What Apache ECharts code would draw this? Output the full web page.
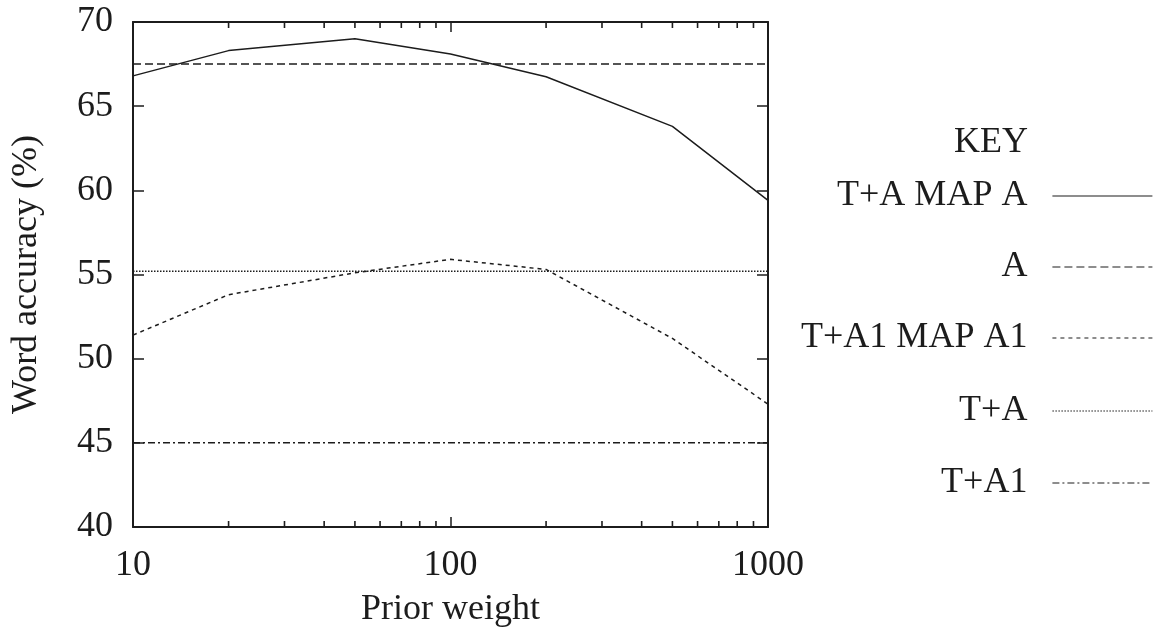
<!DOCTYPE html>
<html>
<head>
<meta charset="utf-8">
<script src="https://cdn.jsdelivr.net/npm/echarts@6/dist/echarts.min.js"></script>
<style>html,body{margin:0;padding:0;background:#fff;}#c{width:1159px;height:642px;}</style>
</head>
<body>
<div id="c"></div>
<script>
// ---- data ----
const priorWeights = [10, 20, 50, 100, 200, 500, 1000];
const tamapA    = [66.8, 68.3, 69.0, 68.1, 66.75, 63.8, 59.4];   // T+A MAP A
const ta1mapA1  = [51.4, 53.8, 55.1, 55.9, 55.3, 51.2, 47.3];    // T+A1 MAP A1
const baselineX = [10, 1000];
const baseA     = [67.5, 67.5];   // A
const baseTA    = [55.2, 55.2];   // T+A
const baseTA1   = [45.0, 45.0];   // T+A1
const minorTickValues = [20, 30, 40, 50, 60, 70, 80, 90, 200, 300, 400, 500, 600, 700, 800, 900];
const seriesNames = ['T+A MAP A', 'A', 'T+A1 MAP A1', 'T+A', 'T+A1'];
const yTicks = { min: 40, max: 70, interval: 5 };

const FONT = 'Liberation Serif';
const INK = '#1c1c1c';
const pair = (xs, ys) => xs.map((x, i) => [x, ys[i]]);

const styles = {
  'T+A MAP A':   { type: 'solid', width: 1.5 },
  'A':           { type: [8, 4], width: 1.5 },
  'T+A1 MAP A1': { type: [4, 4], width: 1.5 },
  'T+A':         { type: [1.5, 1.5], width: 1.5 },
  'T+A1':        { type: [7, 3, 2, 3], width: 1.5 }
};
const dataByName = {
  'T+A MAP A': pair(priorWeights, tamapA),
  'A': pair(baselineX, baseA),
  'T+A1 MAP A1': pair(priorWeights, ta1mapA1),
  'T+A': pair(baselineX, baseTA),
  'T+A1': pair(baselineX, baseTA1)
};

const lineSeries = seriesNames.map(n => ({
  name: n, type: 'line', xAxisIndex: 0, yAxisIndex: 0,
  symbol: 'none', silent: true, animation: false,
  lineStyle: { color: INK, width: styles[n].width, type: styles[n].type },
  itemStyle: { color: INK },
  data: dataByName[n]
}));

const tickSeries = [
  { y: yTicks.min, off: -3 }, { y: yTicks.max, off: 3 }
].map(t => ({
  type: 'scatter', xAxisIndex: 0, yAxisIndex: 0, silent: true, animation: false,
  symbol: 'rect', symbolSize: [1.6, 6], symbolOffset: [0, t.off],
  itemStyle: { color: INK, opacity: 1 }, clip: false, z: 5,
  data: minorTickValues.map(v => [v, t.y])
}));

const legendCenters = [196, 267, 338, 411, 483];
const legends = seriesNames.map((n, i) => ({
  data: [n], orient: 'vertical', align: 'right',
  right: 6, top: legendCenters[i] - 18, padding: 0,
  itemWidth: 100, itemHeight: 14, selectedMode: false,
  textStyle: { fontFamily: FONT, fontSize: 36, color: INK, padding: [0, 20, 0, 0] },
  lineStyle: { width: 1.2 },
  itemStyle: { opacity: 0, color: 'rgba(0,0,0,0)', borderWidth: 0 }
}));

const axisCommon = {
  axisLine: { show: true, lineStyle: { color: INK, width: 2 } },
  splitLine: { show: false }
};

const option = {
  backgroundColor: '#ffffff',
  animation: false,
  title: {
    text: 'KEY', right: 126, top: 120,
    textStyle: { fontFamily: FONT, fontSize: 36, fontWeight: 'normal', color: INK }
  },
  legend: legends,
  grid: { left: 133, right: 391, top: 22, bottom: 115, containLabel: false },
  xAxis: [
    Object.assign({
      type: 'log', logBase: 10, min: 10, max: 1000, position: 'bottom',
      name: 'Prior weight', nameLocation: 'middle', nameGap: 65,
      nameTextStyle: { fontFamily: FONT, fontSize: 36, color: INK },
      axisTick: { show: true, inside: true, length: 10, lineStyle: { color: INK, width: 1.5 } },
      axisLabel: { fontFamily: FONT, fontSize: 36, color: INK, margin: 21, formatter: v => String(v) }
    }, axisCommon),
    Object.assign({
      type: 'log', logBase: 10, min: 10, max: 1000, position: 'top',
      axisTick: { show: true, inside: true, length: 10, lineStyle: { color: INK, width: 1.5 } },
      axisLabel: { show: false }
    }, axisCommon)
  ],
  yAxis: [
    Object.assign({
      type: 'value', min: yTicks.min, max: yTicks.max, interval: yTicks.interval, position: 'left',
      name: 'Word accuracy (%)', nameLocation: 'middle', nameGap: 88,
      nameTextStyle: { fontFamily: FONT, fontSize: 36, color: INK },
      axisTick: { show: true, inside: true, length: 11, lineStyle: { color: INK, width: 1.5 } },
      axisLabel: { fontFamily: FONT, fontSize: 36, color: INK, margin: 20 }
    }, axisCommon),
    Object.assign({
      type: 'value', min: yTicks.min, max: yTicks.max, interval: yTicks.interval, position: 'right',
      axisTick: { show: true, inside: true, length: 11, lineStyle: { color: INK, width: 1.5 } },
      axisLabel: { show: false }
    }, axisCommon)
  ],
  series: lineSeries.concat(tickSeries)
};

const chart = echarts.init(document.getElementById('c'), null, { renderer: 'canvas' });
chart.setOption(option);
</script>
</body>
</html>
